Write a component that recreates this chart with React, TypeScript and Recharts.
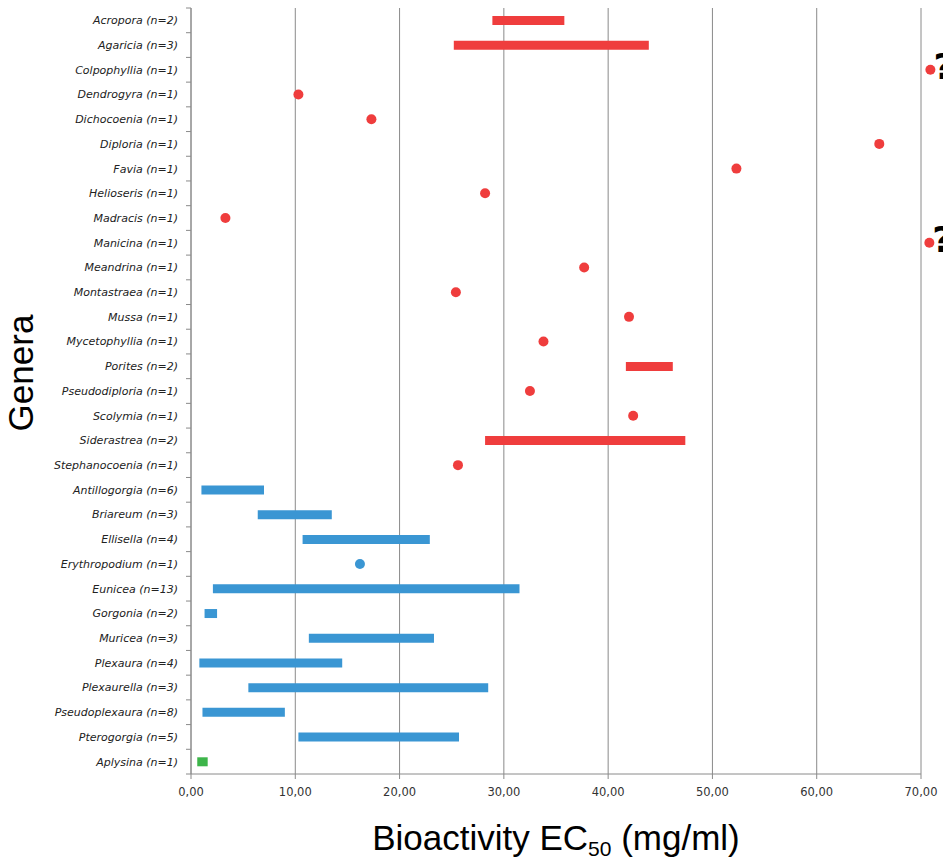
import React from "react";
import {
  ComposedChart,
  Bar,
  Scatter,
  XAxis,
  YAxis,
  CartesianGrid,
  Cell,
  ReferenceDot,
  Label,
} from "recharts";

const GENERA = [
  "Acropora (n=2)",
  "Agaricia (n=3)",
  "Colpophyllia (n=1)",
  "Dendrogyra (n=1)",
  "Dichocoenia (n=1)",
  "Diploria (n=1)",
  "Favia (n=1)",
  "Helioseris (n=1)",
  "Madracis (n=1)",
  "Manicina (n=1)",
  "Meandrina (n=1)",
  "Montastraea (n=1)",
  "Mussa (n=1)",
  "Mycetophyllia (n=1)",
  "Porites (n=2)",
  "Pseudodiploria (n=1)",
  "Scolymia (n=1)",
  "Siderastrea (n=2)",
  "Stephanocoenia (n=1)",
  "Antillogorgia (n=6)",
  "Briareum (n=3)",
  "Ellisella (n=4)",
  "Erythropodium (n=1)",
  "Eunicea (n=13)",
  "Gorgonia (n=2)",
  "Muricea (n=3)",
  "Plexaura (n=4)",
  "Plexaurella (n=3)",
  "Pseudoplexaura (n=8)",
  "Pterogorgia (n=5)",
  "Aplysina (n=1)",
];

// h = scleractinian, o = octocoral, s = sponge
const GROUPS = [
  "h", "h", "h", "h", "h", "h", "h", "h", "h", "h",
  "h", "h", "h", "h", "h", "h", "h", "h", "h",
  "o", "o", "o", "o", "o", "o", "o", "o", "o", "o", "o",
  "s",
];

// EC50 ranges (genera with n > 1)
const RANGE_MIN = [
  28.9, 25.2, null, null, null, null, null, null, null, null,
  null, null, null, null, 41.7, null, null, 28.2, null,
  1.0, 6.4, 10.7, null, 2.1, 1.3, 11.3, 0.8, 5.5, 1.1, 10.3,
  0.6,
];
const RANGE_MAX = [
  35.8, 43.9, null, null, null, null, null, null, null, null,
  null, null, null, null, 46.2, null, null, 47.4, null,
  7.0, 13.5, 22.9, null, 31.5, 2.5, 23.3, 14.5, 28.5, 9.0, 25.7,
  1.6,
];

// single EC50 values (n = 1); values above 70 sit just past the axis end
const SINGLE = [
  null, null, 70.9, 10.3, 17.3, 66.0, 52.3, 28.2, 3.3, 70.8,
  37.7, 25.4, 42.0, 33.8, null, 32.5, 42.4, null, 25.6,
  null, null, null, 16.2, null, null, null, null, null, null, null,
  null,
];

const X_TICKS = [0, 10, 20, 30, 40, 50, 60, 70];
const X_MAX = 70;

const COLORS: Record<string, string> = {
  h: "#EF3D3D",
  o: "#3A96D3",
  s: "#3DB54A",
};

const GRID = "#8a8a8a";
const PLOT_H = 766;

const rows = GENERA.map((name, i) => ({
  name,
  group: GROUPS[i],
  range: RANGE_MIN[i] != null ? [RANGE_MIN[i], RANGE_MAX[i]] : null,
  dot: SINGLE[i] != null && (SINGLE[i] as number) <= X_MAX ? SINGLE[i] : null,
}));

const overflow = GENERA.map((name, i) => ({ name, group: GROUPS[i], value: SINGLE[i] })).filter(
  (d) => d.value != null && (d.value as number) > X_MAX
);

const renderDot = (props: any) => {
  const { cx, cy, payload } = props;
  if (payload == null || payload.dot == null || cx == null || isNaN(cx)) return <g />;
  return <circle cx={cx} cy={cy} r={5} fill={COLORS[payload.group]} />;
};

const fmt = (v: number) => v.toFixed(2).replace(".", ",");

// category label plus tick marks on the row boundaries
const GenusTick = (props: any) => {
  const { x, y, payload, index } = props;
  const half = PLOT_H / GENERA.length / 2;
  const ax = x + 13;
  return (
    <g>
      <line x1={ax - 5} x2={ax} y1={y - half} y2={y - half} stroke={GRID} />
      {index === GENERA.length - 1 && (
        <line x1={ax - 5} x2={ax} y1={y + half} y2={y + half} stroke={GRID} />
      )}
      <text
        x={x}
        y={y}
        dy="0.355em"
        textAnchor="end"
        fontFamily="DejaVu Sans"
        fontSize={11}
        fontStyle="italic"
        fill="#222"
      >
        {payload.value}
      </text>
    </g>
  );
};

const QuestionMark = (props: any) => {
  const vb = props.viewBox || {};
  const cx = (vb.x ?? 0) + (vb.width ?? 0) / 2;
  const cy = (vb.y ?? 0) + (vb.height ?? 0) / 2;
  return (
    <text x={cx + 3} y={cy + 9} fontFamily="DejaVu Sans" fontWeight="bold" fontSize={36} fill="#000">
      ?
    </text>
  );
};

export default function App() {
  return (
    <div style={{ position: "absolute", left: 0, top: 0, width: 943, height: 860, background: "#fff" }}>
      <ComposedChart
        width={943}
        height={860}
        data={rows}
        layout="vertical"
        margin={{ top: 8, right: 22, left: 0, bottom: 0 }}
        barCategoryGap={0}
      >
        <CartesianGrid horizontal={false} stroke={GRID} strokeWidth={1} />
        <XAxis
          type="number"
          domain={[0, X_MAX]}
          ticks={X_TICKS}
          interval={0}
          tickFormatter={fmt}
          height={86}
          stroke={GRID}
          tickSize={5}
          tickMargin={9}
          tick={{ fontFamily: "DejaVu Sans", fontSize: 11.5, fill: "#333" }}
        >
          <Label
            content={() => (
              <text x={556} y={850} textAnchor="middle" fontFamily="Liberation Sans, Arial" fontSize={35} fill="#000">
                Bioactivity EC
                <tspan fontSize={21} dy={6}>50</tspan>
                <tspan dy={-6}> (mg/ml)</tspan>
              </text>
            )}
          />
        </XAxis>
        <YAxis
          type="category"
          dataKey="name"
          width={191}
          stroke={GRID}
          tickLine={false}
          tickSize={5}
          tickMargin={8}
          interval={0}
          tick={<GenusTick />}
        >
          <Label
            content={() => (
              <text
                transform="rotate(-90)"
                x={-373}
                y={33}
                textAnchor="middle"
                fontFamily="Liberation Sans, Arial"
                fontSize={35}
                fill="#000"
              >
                Genera
              </text>
            )}
          />
        </YAxis>
        <Bar dataKey="range" barSize={9} isAnimationActive={false}>
          {rows.map((r, i) => (
            <Cell key={`bar-${i}`} fill={COLORS[r.group]} />
          ))}
        </Bar>
        <Scatter dataKey="dot" shape={renderDot} isAnimationActive={false} />
        {overflow.map((d) => (
          <ReferenceDot
            key={d.name}
            x={d.value as number}
            y={d.name}
            r={5}
            fill={COLORS[d.group]}
            stroke="none"
            ifOverflow="visible"
            label={<QuestionMark />}
          />
        ))}
      </ComposedChart>
    </div>
  );
}
